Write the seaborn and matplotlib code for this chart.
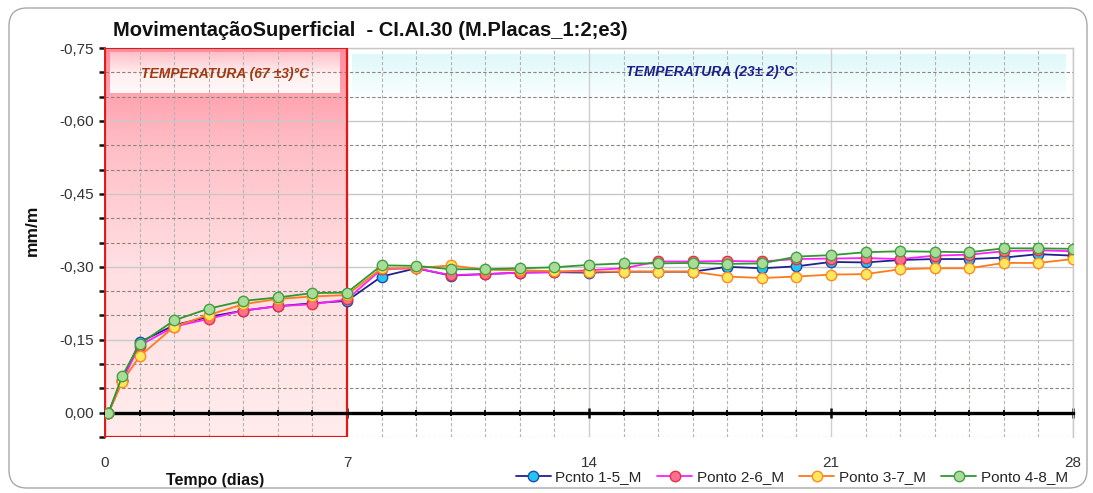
import numpy as np
import pandas as pd
import matplotlib
matplotlib.use("Agg")
import matplotlib.pyplot as plt
import seaborn as sns
from matplotlib.patches import Rectangle, FancyBboxPatch
from matplotlib.ticker import MultipleLocator, FixedLocator, FuncFormatter
from matplotlib.transforms import IdentityTransform

# --- data -------------------------------------------------------------
tempo = [0.1, 0.5, 1, 2, 3, 4, 5, 6, 7, 8, 9, 10, 11, 12, 13, 14, 15, 16,
         17, 18, 19, 20, 21, 22, 23, 24, 25, 26, 27, 28]

ponto_1_5 = [0, -0.068, -0.145, -0.180, -0.197, -0.210, -0.219, -0.225, -0.230,
             -0.280, -0.297, -0.282, -0.285, -0.288, -0.289, -0.288, -0.290,
             -0.290, -0.290, -0.300, -0.297, -0.301, -0.310, -0.309, -0.314,
             -0.316, -0.316, -0.319, -0.326, -0.323]
ponto_2_6 = [0, -0.066, -0.138, -0.177, -0.193, -0.210, -0.219, -0.223, -0.233,
             -0.295, -0.297, -0.283, -0.285, -0.288, -0.289, -0.293, -0.297,
             -0.311, -0.311, -0.312, -0.311, -0.316, -0.317, -0.318, -0.316,
             -0.323, -0.325, -0.332, -0.334, -0.332]
ponto_3_7 = [0, -0.064, -0.116, -0.177, -0.201, -0.223, -0.234, -0.239, -0.242,
             -0.297, -0.297, -0.303, -0.294, -0.293, -0.291, -0.290, -0.290,
             -0.290, -0.290, -0.280, -0.277, -0.280, -0.284, -0.285, -0.295,
             -0.297, -0.297, -0.308, -0.308, -0.316]
ponto_4_8 = [0, -0.076, -0.141, -0.190, -0.214, -0.230, -0.237, -0.246, -0.247,
             -0.303, -0.302, -0.295, -0.295, -0.297, -0.299, -0.304, -0.307,
             -0.307, -0.308, -0.306, -0.307, -0.321, -0.324, -0.330, -0.332,
             -0.331, -0.330, -0.338, -0.338, -0.337]

series_names = ["Pcnto 1-5_M", "Ponto 2-6_M", "Ponto 3-7_M", "Ponto 4-8_M"]
series_values = [ponto_1_5, ponto_2_6, ponto_3_7, ponto_4_8]

# curing phases: hot phase then room temperature
fase_quente = [0, 7]
fase_ambiente = [7, 28]
fase_labels = ["TEMPERATURA (67 \u00b13)\u00b0C", "TEMPERATURA (23\u00b1 2)\u00b0C"]

x_ticks = [0, 7, 14, 21, 28]
y_ticks = [-0.75, -0.60, -0.45, -0.30, -0.15, 0.0]

titulo = "Movimenta\u00e7\u00e3oSuperficial  - CI.AI.30 (M.Placas_1:2;e3)"

# --- style ------------------------------------------------------------
sns.set_theme(style="white")
plt.rcParams["font.family"] = ["Liberation Sans", "DejaVu Sans"]

line_colors = ["#20208f", "#ff20ff", "#ff7a1a", "#2e9a2e"]
face_colors = ["#1ec8f0", "#ff7090", "#ffe860", "#a8dc98"]
edge_colors = ["#2a48b0", "#e83040", "#ff8a1e", "#44a044"]

fig = plt.figure(figsize=(10.93, 4.93), dpi=100)
ax = fig.add_axes([0.0961, 0.1136, 0.8856, 0.789])

y_lo, y_hi = 0.05, -0.75
x_lo, x_hi = 0, 28


def gradient(stops, n=256):
    """Vertical RGBA gradient from a list of (position, rgb) stops, top first."""
    pos = np.array([s[0] for s in stops])
    cols = np.array([s[1] for s in stops], dtype=float) / 255.0
    t = np.linspace(0, 1, n)
    rgb = np.stack([np.interp(t, pos, cols[:, k]) for k in range(3)], axis=1)
    rgba = np.concatenate([rgb, np.ones((n, 1))], axis=1)
    return rgba[:, None, :]


# hot phase band
red_grad = gradient([(0.0, (255, 140, 156)), (0.25, (255, 190, 198)),
                     (0.55, (255, 222, 225)), (1.0, (255, 236, 236))])
ax.imshow(red_grad, extent=(fase_quente[0], fase_quente[1], y_lo, y_hi),
          aspect="auto", origin="upper", zorder=0.1, interpolation="bilinear")
ax.add_patch(Rectangle((fase_quente[0], y_lo), fase_quente[1] - fase_quente[0],
                       y_hi - y_lo, fill=False, ec="#e01818", lw=1.6, zorder=3))

# label boxes
box_grad = gradient([(0.0, (255, 196, 204)), (0.55, (255, 250, 250)),
                     (1.0, (255, 255, 255))])
ax.imshow(box_grad, extent=(0.15, 6.8, -0.657, -0.741), aspect="auto",
          origin="upper", zorder=0.2, alpha=0.92)
cyan_grad = gradient([(0.0, (222, 248, 250)), (0.5, (236, 252, 252)),
                      (1.0, (255, 255, 255))])
ax.imshow(cyan_grad, extent=(7.15, 27.8, -0.642, -0.737), aspect="auto",
          origin="upper", zorder=0.2, alpha=0.95)

ax.text(np.mean([0.15, 6.8]), -0.697, fase_labels[0], color="#a23a12",
        fontsize=10, fontstyle="italic", fontweight="bold",
        ha="center", va="center", zorder=4)
ax.text(17.5, -0.70, fase_labels[1], color="#1e1e8c",
        fontsize=10, fontstyle="italic", fontweight="bold",
        ha="center", va="center", zorder=4)

# series
for name, vals, lc, fc, ec in zip(series_names, series_values,
                                  line_colors, face_colors, edge_colors):
    sns.lineplot(x=tempo, y=vals, ax=ax, color=lc, lw=1.3, marker="o",
                 markersize=7.5, markerfacecolor=fc, markeredgecolor=ec,
                 markeredgewidth=1.0, label=name, zorder=5)

ax.set_xlim(x_lo, x_hi)
ax.set_ylim(y_lo, y_hi)

# ticks
ax.xaxis.set_major_locator(FixedLocator(x_ticks))
ax.xaxis.set_minor_locator(MultipleLocator(1))
ax.yaxis.set_major_locator(FixedLocator(y_ticks))
ax.yaxis.set_minor_locator(MultipleLocator(0.05))


def fmt(v, _):
    if abs(v) < 1e-9:
        return "0,00"
    return f"{v:.2f}".replace(".", ",")


ax.yaxis.set_major_formatter(FuncFormatter(fmt))
ax.xaxis.set_major_formatter(FuncFormatter(lambda v, _: f"{int(round(v))}"))

ax.tick_params(axis="y", which="both", left=True, direction="out", length=4,
               width=1.8, color="#111111", labelsize=11, labelcolor="#333333",
               pad=4)
ax.tick_params(axis="x", which="major", bottom=True, direction="inout",
               length=7, width=1.8, color="#111111", labelsize=11,
               labelcolor="#333333", pad=28)
ax.tick_params(axis="x", which="minor", bottom=True, direction="inout",
               length=4, width=1.4, color="#111111")

# grid
ax.set_axisbelow(True)
ax.grid(which="major", axis="y", color="#c8c8c8", lw=1.0, ls="-")
ax.grid(which="minor", axis="y", color="#8c8478", lw=0.8, ls=(0, (3, 2)))
ax.grid(which="major", axis="x", color="#cfcfcf", lw=1.0, ls="-")
ax.grid(which="minor", axis="x", color="#b4b4b4", lw=0.8, ls=(0, (3, 2)))

# frame: zero line acts as the x axis
ax.spines["bottom"].set_position(("data", 0))
ax.spines["bottom"].set_color("#000000")
ax.spines["bottom"].set_linewidth(2.4)
ax.spines["bottom"].set_zorder(4)
ax.spines["left"].set_color("#e01818")
ax.spines["left"].set_linewidth(1.4)
for s in ["top", "right"]:
    ax.spines[s].set_color("#c8c8c8")
    ax.spines[s].set_linewidth(1.0)

ax.set_xlabel("Tempo (dias)", fontsize=11.5, fontweight="bold", color="#111111")
ax.xaxis.set_label_coords(0.114, -0.093)
ax.set_ylabel("mm/m", fontsize=12.5, fontweight="bold", color="#111111")
ax.yaxis.set_label_coords(-0.067, 0.532)

fig.text(113 / 1093, 1 - 30 / 493, titulo, fontsize=14.5, fontweight="bold",
         color="#111111", ha="left", va="center")

leg = ax.legend(loc="center right", bbox_to_anchor=(1068 / 1093, 1 - 477 / 493),
                bbox_transform=fig.transFigure, ncol=4, frameon=False,
                fontsize=11, handlelength=2.3, handletextpad=0.3,
                columnspacing=1.0, borderaxespad=0, borderpad=0)

# rounded outer border
fig.patches.append(FancyBboxPatch((9, 5), 1078, 480,
                                  boxstyle="round,pad=0,rounding_size=18",
                                  transform=IdentityTransform(), fill=False,
                                  ec="#a8a8a8", lw=1.0, figure=fig))

fig.savefig("out.png", dpi=100)
